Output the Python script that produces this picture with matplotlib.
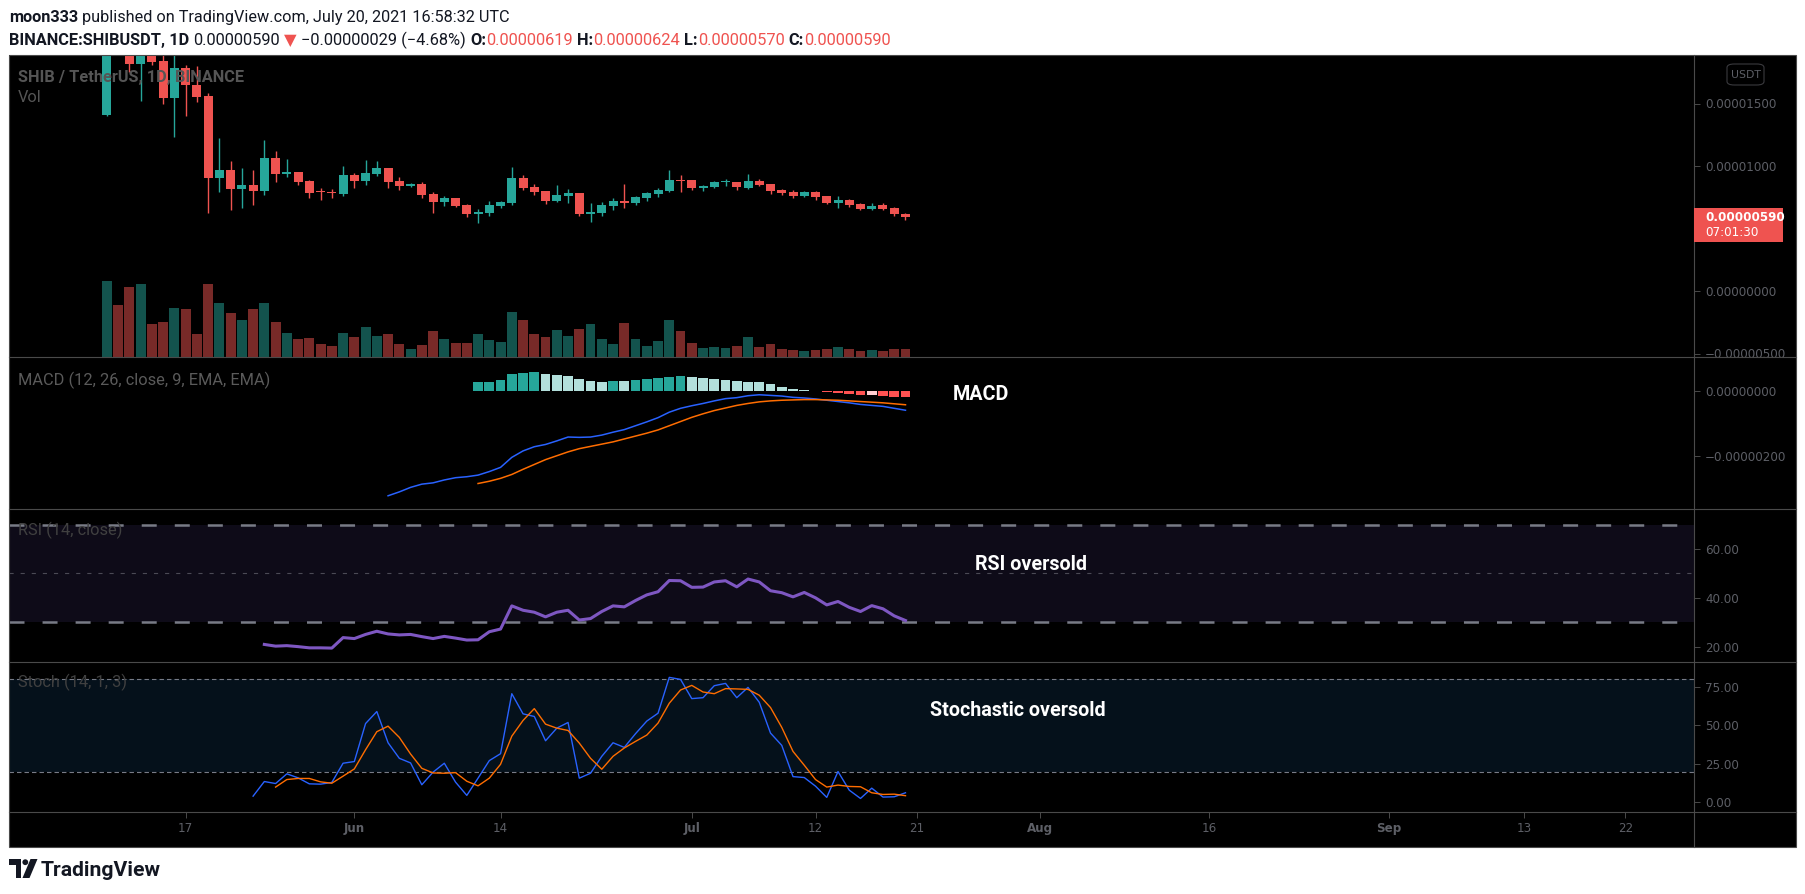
import numpy as np
import pandas as pd
import matplotlib
matplotlib.use("Agg")
import matplotlib.pyplot as plt
from matplotlib.patches import Rectangle, FancyBboxPatch, Circle, Polygon
from matplotlib.lines import Line2D

# ---- data (prices in units of 1e-6 USDT) ----
start_date = "2021-05-10"
opens = [14.1, 30.0, 24.0, 18.2, 21.0, 18.4, 15.44, 17.84, 16.48, 15.6,
         9.04, 9.68, 8.16, 8.48, 8.0, 10.64, 9.36, 9.52, 8.8, 7.94,
         7.92, 7.76, 9.28, 8.8, 9.36, 9.84, 8.8, 8.4, 8.56, 7.76,
         7.12, 7.44, 6.88, 6.16, 6.24, 6.8, 7.04, 9.04, 8.32, 8.0,
         7.2, 7.6, 7.84, 6.16, 6.24, 6.8, 7.2, 7.04, 7.44, 7.76,
         8.0, 8.88, 8.86, 8.24, 8.32, 8.72, 8.72, 8.24, 8.8, 8.56,
         8.08, 7.92, 7.6, 7.92, 7.6, 7.04, 7.28, 6.96, 6.56, 6.88,
         6.64, 6.19]
highs = [38.8, 33.0, 25.0, 22.5, 21.5, 19.5, 19.6, 18.08, 18.0, 15.84,
         12.24, 10.4, 9.84, 9.68, 12.08, 11.2, 10.56, 9.52, 8.88, 8.24,
         8.16, 10.0, 9.44, 10.48, 10.4, 9.84, 9.12, 8.64, 8.72, 7.92,
         7.6, 7.44, 6.96, 6.56, 7.2, 7.2, 9.92, 9.28, 8.56, 8.0,
         8.48, 8.16, 7.84, 7.04, 7.12, 7.44, 8.56, 7.6, 7.92, 8.24,
         9.68, 9.28, 8.9, 8.48, 8.8, 8.96, 8.76, 9.36, 8.96, 8.6,
         8.16, 8.08, 8.0, 8.0, 7.64, 7.6, 7.36, 7.04, 7.04, 7.04,
         6.72, 6.24]
lows = [14.0, 22.0, 17.5, 15.2, 18.08, 14.96, 12.32, 14.0, 15.12, 6.24,
        7.92, 6.48, 6.64, 6.88, 7.68, 8.72, 9.12, 8.48, 7.44, 7.28,
        7.44, 7.6, 8.24, 8.48, 9.2, 8.24, 8.08, 8.32, 7.44, 6.24,
        6.8, 6.72, 5.92, 5.44, 6.0, 6.64, 6.88, 8.08, 7.68, 6.96,
        7.12, 7.04, 6.0, 5.52, 6.0, 6.48, 6.64, 6.88, 7.2, 7.52,
        7.95, 7.92, 8.08, 8.0, 8.24, 8.4, 8.08, 8.2, 8.44, 7.76,
        7.68, 7.44, 7.52, 7.28, 6.96, 6.64, 6.72, 6.48, 6.48, 6.52,
        6.0, 5.70]
closes = [30.0, 24.0, 18.2, 21.0, 18.32, 15.44, 17.84, 16.48, 15.52, 9.04,
          9.68, 8.16, 8.48, 8.0, 10.64, 9.36, 9.52, 8.72, 7.84, 7.90,
          7.88, 9.28, 8.8, 9.44, 9.84, 8.72, 8.4, 8.56, 7.68, 7.12,
          7.44, 6.8, 6.16, 6.32, 6.88, 7.12, 9.04, 8.24, 7.92, 7.2,
          7.68, 7.84, 6.16, 6.32, 6.88, 7.2, 7.04, 7.52, 7.84, 8.08,
          8.88, 8.8, 8.24, 8.4, 8.72, 8.76, 8.32, 8.8, 8.48, 8.0,
          7.84, 7.6, 7.92, 7.52, 7.04, 7.28, 6.88, 6.56, 6.8, 6.56,
          6.16, 5.90]
volume = [226, 154, 208, 217, 100, 106, 148, 145, 70, 217,
          160, 133, 112, 145, 160, 106, 73, 55, 58, 40,
          34, 73, 61, 91, 64, 70, 40, 25, 37, 79,
          55, 43, 43, 70, 52, 46, 136, 112, 70, 61,
          82, 64, 85, 100, 55, 40, 103, 55, 34, 49,
          112, 79, 43, 28, 31, 28, 34, 61, 31, 40,
          25, 22, 19, 22, 25, 31, 25, 19, 22, 19,
          25, 25]

macd = [-3.24, -3.12, -2.98, -2.88, -2.84, -2.75, -2.68, -2.65, -2.60, -2.49,
        -2.36, -2.05, -1.85, -1.72, -1.65, -1.54, -1.42, -1.43, -1.42, -1.36,
        -1.27, -1.19, -1.07, -0.95, -0.82, -0.65, -0.53, -0.45, -0.38, -0.30,
        -0.23, -0.20, -0.14, -0.11, -0.13, -0.15, -0.19, -0.21, -0.24, -0.28,
        -0.32, -0.36, -0.41, -0.44, -0.47, -0.53, -0.59]
signal = [-2.86, -2.79, -2.70, -2.58, -2.42, -2.27, -2.12, -2.00, -1.88, -1.78,
          -1.71, -1.64, -1.57, -1.48, -1.39, -1.30, -1.20, -1.07, -0.94, -0.81,
          -0.70, -0.60, -0.52, -0.44, -0.38, -0.33, -0.30, -0.28, -0.27, -0.26,
          -0.26, -0.27, -0.28, -0.30, -0.32, -0.34, -0.36, -0.39, -0.42]
hist = [0.27, 0.30, 0.36, 0.52, 0.577, 0.585, 0.52, 0.515, 0.485, 0.39,
        0.33, 0.30, 0.33, 0.325, 0.335, 0.39, 0.395, 0.45, 0.485, 0.455,
        0.42, 0.39, 0.36, 0.33, 0.30, 0.27, 0.21, 0.145, 0.08, 0.05,
        0.02, -0.04, -0.07, -0.10, -0.13, -0.125, -0.135, -0.165, -0.17]
rsi = [20.9, 20.2, 20.4, 20.0, 19.5, 19.5, 19.4, 23.7, 23.3, 25.0,
       26.3, 25.2, 24.8, 25.0, 24.1, 23.3, 24.2, 23.5, 22.7, 22.8,
       26.1, 27.2, 36.7, 34.9, 34.1, 32.2, 34.1, 34.9, 30.9, 31.5,
       34.4, 36.7, 36.3, 38.9, 41.2, 42.5, 47.1, 47.0, 44.3, 44.4,
       46.5, 47.0, 44.5, 47.7, 46.5, 42.9, 42.1, 40.4, 42.2, 40.0,
       37.1, 38.5, 36.1, 34.4, 36.8, 35.5, 32.6, 30.7]
stoch_k = [4.0, 13.5, 12.2, 18.5, 15.9, 12.0, 11.8, 12.9, 25.4, 26.5,
           51.2, 59.0, 38.7, 28.6, 25.6, 11.4, 19.6, 25.4, 13.1, 4.5,
           15.7, 27.1, 31.6, 70.6, 57.5, 55.8, 40.0, 48.2, 51.9, 15.7,
           18.9, 29.9, 38.7, 35.7, 44.6, 52.8, 57.9, 81.2, 79.9, 67.4,
           68.0, 75.8, 77.3, 68.0, 74.7, 65.0, 45.0, 37.0, 16.7, 16.1,
           10.5, 3.2, 20.0, 7.9, 2.5, 9.2, 3.4, 3.6, 6.2]
stoch_d = [9.9, 14.8, 15.5, 15.5, 13.3, 12.4, 17.0, 21.7, 34.2, 45.9,
           49.5, 42.2, 31.4, 22.1, 19.1, 18.9, 19.3, 13.7, 10.7, 15.7,
           24.7, 43.0, 53.2, 60.9, 50.8, 48.2, 46.7, 38.5, 28.6, 21.5,
           29.9, 35.3, 39.6, 43.7, 51.5, 64.4, 73.0, 76.0, 71.7, 70.6,
           73.9, 73.7, 73.4, 69.6, 61.6, 48.7, 33.1, 24.1, 14.8, 9.9,
           11.2, 10.3, 10.1, 6.2, 5.1, 5.3, 4.3]

tick_dates = ["2021-05-17", "2021-06-01", "2021-06-14", "2021-07-01", "2021-07-12",
              "2021-07-21", "2021-08-01", "2021-08-16", "2021-09-01", "2021-09-13",
              "2021-09-22"]
tick_labels = ["17", "Jun", "14", "Jul", "12", "21", "Aug", "16", "Sep", "13", "22"]

# ---- layout helpers (pixels, origin top-left) ----
W, H = 1805, 894
plt.rcParams["font.family"] = ["DejaVu Sans"]
plt.rcParams["lines.scale_dashes"] = False
SANS = ["Roboto", "DejaVu Sans"]
UP, DN = "#26a69a", "#ef5350"
GRID = "#4a4a4a"
AXTXT = "#5d5f66"
DARK = "#131722"


def fx(x):
    return x / W


def fy(y):
    return 1 - y / H


fig = plt.figure(figsize=(W / 100, H / 100), dpi=100, facecolor="white")
fig.patches.append(Rectangle((fx(9), fy(847)), (1796 - 9) / W, (847 - 55) / H,
                             transform=fig.transFigure, facecolor="black",
                             edgecolor="none", zorder=-5))


def pane(y0, y1):
    ax = fig.add_axes([fx(9), fy(y1), (1694 - 9) / W, (y1 - y0) / H])
    ax.set_facecolor("black")
    for s in ax.spines.values():
        s.set_visible(False)
    ax.set_xlim(-8.7, 141.1)
    ax.tick_params(axis="x", bottom=False, labelbottom=False)
    ax.yaxis.tick_right()
    ax.tick_params(axis="y", direction="out", length=4, width=0.7, color=GRID,
                   labelcolor=AXTXT, labelsize=8.6, pad=4)
    return ax


days = np.arange(len(closes))
o, h, l, c = map(np.array, (opens, highs, lows, closes))
up = c >= o

ax_vol = pane(56, 357)
ax_price = pane(56, 357)
ax_macd = pane(357, 509)
ax_rsi = pane(509, 662)
ax_st = pane(662, 812)
ax_price.set_facecolor("none")

# volume
ax_vol.bar(days, volume, width=0.88, color=np.where(up, "#13534d", "#782a28"))
ax_vol.set_ylim(0, 900)
ax_vol.set_yticks([])

# candles
cc = np.where(up, UP, DN)
ax_price.vlines(days, l, h, colors=cc, lw=1, zorder=3)
ax_price.bar(days, np.maximum(np.abs(c - o), 0.08), bottom=np.minimum(o, c),
             width=0.8, color=cc, zorder=4)
ax_price.set_ylim(-5.28, 18.8)
ax_price.set_yticks([15, 10, 0, -5])
ax_price.set_yticklabels(["0.00001500", "0.00001000", "0.00000000", "\u22120.00000500"])

# MACD
hd = days[len(days) - len(hist):]
hcol = []
for k, v in enumerate(hist):
    prev = hist[k - 1] if k else -1e9
    if v >= 0:
        hcol.append("#26a69a" if v > prev else "#b2dfdb")
    else:
        hcol.append("#ffcdd2" if v > prev else "#ff5252")
ax_macd.bar(hd, hist, width=0.86, color=hcol, zorder=2)
ax_macd.plot(days[len(days) - len(macd):], macd, color="#2962ff", lw=1.1, zorder=3)
ax_macd.plot(days[len(days) - len(signal):], signal, color="#ff6d00", lw=1.1, zorder=3)
ax_macd.set_ylim(-3.65, 1.06)
ax_macd.set_yticks([0, -2])
ax_macd.set_yticklabels(["0.00000000", "\u22120.00000200"])

# RSI
ax_rsi.axhspan(30, 70, color="#0e0b18", lw=0, zorder=0)
for lev in (70, 30):
    ax_rsi.axhline(lev, color="#787b86", lw=1.8, dashes=(10.8, 13.0), zorder=1)
ax_rsi.axhline(50, color="#4b4a55", lw=0.8, dashes=(3, 5), zorder=1)
ax_rsi.plot(days[len(days) - len(rsi):], rsi, color="#7e57c2", lw=2.2, zorder=3)
ax_rsi.set_ylim(13.7, 76.4)
ax_rsi.set_yticks([60, 40, 20])
ax_rsi.set_yticklabels(["60.00", "40.00", "20.00"])

# Stochastic
ax_st.axhspan(20, 80, color="#05111b", lw=0, zorder=0)
for lev in (80, 20):
    ax_st.axhline(lev, color="#787b86", lw=0.8, dashes=(3.2, 2.2), zorder=1)
ax_st.plot(days[len(days) - len(stoch_k):], stoch_k, color="#2962ff", lw=1.0, zorder=3)
ax_st.plot(days[len(days) - len(stoch_d):], stoch_d, color="#ff6d00", lw=1.0, zorder=3)
ax_st.set_ylim(-6.3, 91.2)
ax_st.set_yticks([75, 50, 25, 0])
ax_st.set_yticklabels(["75.00", "50.00", "25.00", "0.00"])

t0 = pd.Timestamp(start_date)
ax_st.set_xticks([(pd.Timestamp(d) - t0).days for d in tick_dates])
ax_st.set_xticklabels(tick_labels)
ax_st.tick_params(axis="x", bottom=True, labelbottom=True, direction="out", length=4,
                  width=0.7, color=GRID, labelcolor=AXTXT, labelsize=8.6, pad=3)
for lab in ax_st.get_xticklabels():
    if not lab.get_text().isdigit():
        lab.set_fontweight("bold")

# frame lines
for yy in (357, 509, 662, 812):
    fig.add_artist(Line2D([fx(9), fx(1796)], [fy(yy), fy(yy)], color=GRID, lw=0.8, zorder=6))
fig.add_artist(Line2D([fx(1694), fx(1694)], [fy(55), fy(847)], color=GRID, lw=0.8, zorder=6))
fig.patches.append(Rectangle((fx(9), fy(847)), (1796 - 9) / W, (847 - 55) / H,
                             transform=fig.transFigure, facecolor="none",
                             edgecolor=GRID, lw=0.8, zorder=6))

# last price label
yd = ax_price.transData.transform((0, closes[-1]))[1]
fig.patches.append(Rectangle((fx(1694), (yd - 25) / H), (1783 - 1694) / W, 34 / H,
                             transform=fig.transFigure, facecolor=DN, edgecolor="none", zorder=7))
fig.text(fx(1705), yd / H, "0.00000590", color="white", fontsize=8.6, fontweight="bold",
         va="center", zorder=8)
fig.text(fx(1705), (yd - 15) / H, "07:01:30", color="white", fontsize=8.6,
         va="center", zorder=8)

# currency box
fig.patches.append(FancyBboxPatch((fx(1727), fy(85)), (1764 - 1727) / W, 21 / H,
                                  boxstyle="round,pad=0,rounding_size=0.004",
                                  transform=fig.transFigure, facecolor="black",
                                  edgecolor="#3a3a3e", lw=0.8, zorder=7))
fig.text(fx(1745.5), fy(74.5), "USDT", color="#5d5f66", fontsize=7.8, ha="center",
         va="center", zorder=8)

# pane titles
ax_price.text(fx(18), fy(82), "SHIB / TetherUS, 1D, BINANCE", transform=fig.transFigure,
              color="#555555", fontsize=11.8, fontweight="bold", family=SANS, zorder=6)
ax_price.text(fx(18), fy(102), "Vol", transform=fig.transFigure, color="#555555",
              fontsize=11.8, family=SANS, zorder=6)
fig.text(fx(18), fy(385), "MACD (12, 26, close, 9, EMA, EMA)", color="#5a5a5a",
         fontsize=11.8, family=SANS)
fig.text(fx(18), fy(535), "RSI (14, close)", color="#404040", fontsize=11.8, family=SANS)
fig.text(fx(18), fy(687), "Stoch (14, 1, 3)", color="#404040", fontsize=11.8, family=SANS)

# annotations
fig.text(fx(953), fy(394), "MACD", color="white", fontsize=14.2, fontweight="bold",
         family=SANS, va="center")
fig.text(fx(975), fy(565), "RSI oversold", color="white", fontsize=14.2, fontweight="bold",
         family=SANS, va="center")
fig.text(fx(930), fy(711), "Stochastic oversold", color="white", fontsize=14.2,
         fontweight="bold", family=SANS, va="center")

# header lines, fitted to their width in the screenshot
ren = fig.canvas.get_renderer()


def put_runs(runs, x0, y, size):
    x = x0
    arts = []
    for s, col, wt, gap in runs:
        t = fig.text(fx(x), fy(y), s, color=col, fontweight=wt, fontsize=size,
                     family=SANS, ha="left", va="baseline")
        x += t.get_window_extent(ren).width
        if gap:
            x += 0.26 * size * 100 / 72
        arts.append(t)
    return arts, x


def fit_runs(runs, x0, x1, y):
    arts, xe = put_runs(runs, x0, y, 10)
    for a in arts:
        a.remove()
    put_runs(runs, x0, y, 10 * (x1 - x0) / (xe - x0))


line1 = [("moon333", DARK, "bold", True),
         ("published on TradingView.com, July 20, 2021 16:58:32 UTC", DARK, "normal", False)]
line2 = [("BINANCE:SHIBUSDT, 1D", DARK, "bold", True),
         ("0.00000590", DARK, "normal", True),
         ("\u25bc", DN, "normal", True),
         ("\u22120.00000029 (\u22124.68%)", DARK, "normal", True),
         ("O:", DARK, "bold", False), ("0.00000619", DN, "normal", True),
         ("H:", DARK, "bold", False), ("0.00000624", DN, "normal", True),
         ("L:", DARK, "bold", False), ("0.00000570", DN, "normal", True),
         ("C:", DARK, "bold", False), ("0.00000590", DN, "normal", False)]
fit_runs(line1, 9, 510, 22)
fit_runs(line2, 9, 892, 45)

# TradingView logo
ax_logo = fig.add_axes([fx(9), fy(880), (38 - 9) / W, (880 - 857) / H])
ax_logo.set_xlim(9, 38)
ax_logo.set_ylim(880, 857)
ax_logo.axis("off")
ax_logo.add_patch(Polygon([(9, 859), (21, 859), (21, 878), (15.5, 878), (15.5, 865), (9, 865)],
                          color=DARK, lw=0))
ax_logo.add_patch(Circle((25.3, 862.2), 2.9, color=DARK, lw=0))
ax_logo.add_patch(Polygon([(30.5, 859), (37.5, 859), (29.5, 878), (22.5, 878)], color=DARK, lw=0))
fig.text(fx(41), fy(876), "TradingView", color=DARK, fontsize=15.2, fontweight="bold",
         family=SANS, va="baseline")

fig.savefig("out.png", dpi=100, facecolor="white")
